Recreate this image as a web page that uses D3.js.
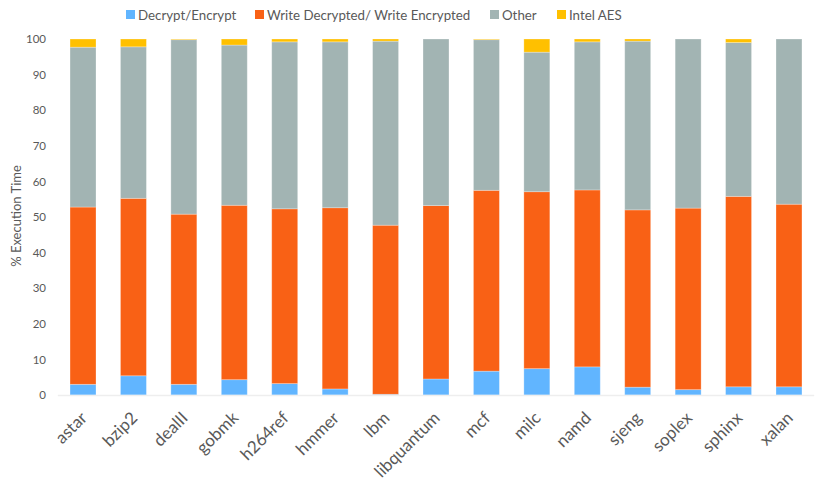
<!DOCTYPE html>
<html><head><meta charset="utf-8">
<script src="https://cdn.jsdelivr.net/npm/d3@7"></script>
<style>body{margin:0;background:#fff}svg{display:block}</style>
</head><body>
<svg id="c" width="822" height="479"></svg>
<script>
const categories = ["astar","bzip2","dealII","gobmk","h264ref","hmmer","lbm","libquantum","mcf","milc","namd","sjeng","soplex","sphinx","xalan"];
const seriesNames = ["Decrypt/Encrypt","Write Decrypted/ Write Encrypted","Other","Intel AES"];
const decrypt = [3.0,5.4,3.0,4.3,3.2,1.7,0.2,4.5,6.7,7.4,7.9,2.2,1.5,2.3,2.3];
const writeDec = [49.8,49.85,47.8,49.0,49.1,50.9,47.5,48.7,50.8,49.7,49.7,49.8,51.0,53.5,51.3];
const other = [44.9,42.55,49.0,45.0,46.9,46.6,51.7,46.8,42.3,39.2,41.6,47.4,47.5,43.2,46.4];
const aes = [2.3,2.2,0.2,1.7,0.8,0.8,0.6,0.0,0.2,3.7,0.8,0.6,0.0,1.0,0.0];
const yTicks = [0,10,20,30,40,50,60,70,80,90,100];
const colors = ["#61b5ff","#f96115","#a2b4b3","#ffc000"];

const rows = categories.map((c,i)=>({cat:c, s0:decrypt[i], s1:writeDec[i], s2:other[i], s3:aes[i]}));
const stack = d3.stack().keys(["s0","s1","s2","s3"])(rows);

const svg = d3.select("#c");
const font = "Lato, 'Open Sans', sans-serif";
const textColor = "#595959";
const x = d3.scaleBand().domain(categories).range([57.8, 814.2]).paddingInner(0.485).paddingOuter(0.2425);
const y = d3.scaleLinear().domain([0,100]).range([395, 39]);

stack.forEach((layer,k)=>{
  svg.append("g").selectAll("rect").data(layer).join("rect")
    .attr("x", d=>x(d.data.cat))
    .attr("width", x.bandwidth())
    .attr("y", d=>y(d[1]))
    .attr("height", d=>Math.max(0, y(d[0])-y(d[1])))
    .attr("fill", colors[k])
    .attr("stroke", "rgba(255,255,255,0.35)")
    .attr("stroke-width", 0.8);
});

// x axis line
svg.append("line").attr("x1",57.8).attr("x2",814.2).attr("y1",395.5).attr("y2",395.5)
  .attr("stroke","#eeeeee").attr("stroke-width",1.5);

// y axis
const yAxis = svg.append("g").attr("transform","translate(50,0)")
  .call(d3.axisLeft(y).tickValues(yTicks).tickSize(0).tickPadding(4));
yAxis.select(".domain").remove();
yAxis.selectAll("text").attr("font-family",font).attr("font-size",11.5).attr("fill",textColor);

// x labels
const xAxis = svg.append("g").attr("transform","translate(0,395)")
  .call(d3.axisBottom(x).tickSize(0).tickPadding(0));
xAxis.select(".domain").remove();
xAxis.selectAll("text")
  .attr("font-family",font).attr("font-size",17).attr("fill",textColor)
  .attr("text-anchor","end")
  .attr("dy",null)
  .attr("transform","translate(5,24) rotate(-45)");

// y title
svg.append("text").attr("transform","translate(21,216) rotate(-90)")
  .attr("text-anchor","middle").attr("font-family",font).attr("font-size",13).attr("fill",textColor)
  .text("% Execution Time");

// legend
const legX = [126, 255, 490, 557];
const leg = svg.append("g");
seriesNames.forEach((n,i)=>{
  leg.append("rect").attr("x",legX[i]).attr("y",10).attr("width",9).attr("height",9).attr("fill",colors[i]);
  leg.append("text").attr("x",legX[i]+12).attr("y",19.5).attr("font-family",font).attr("font-size",13.3)
    .attr("fill",textColor).text(n);
});
</script>
</body></html>
